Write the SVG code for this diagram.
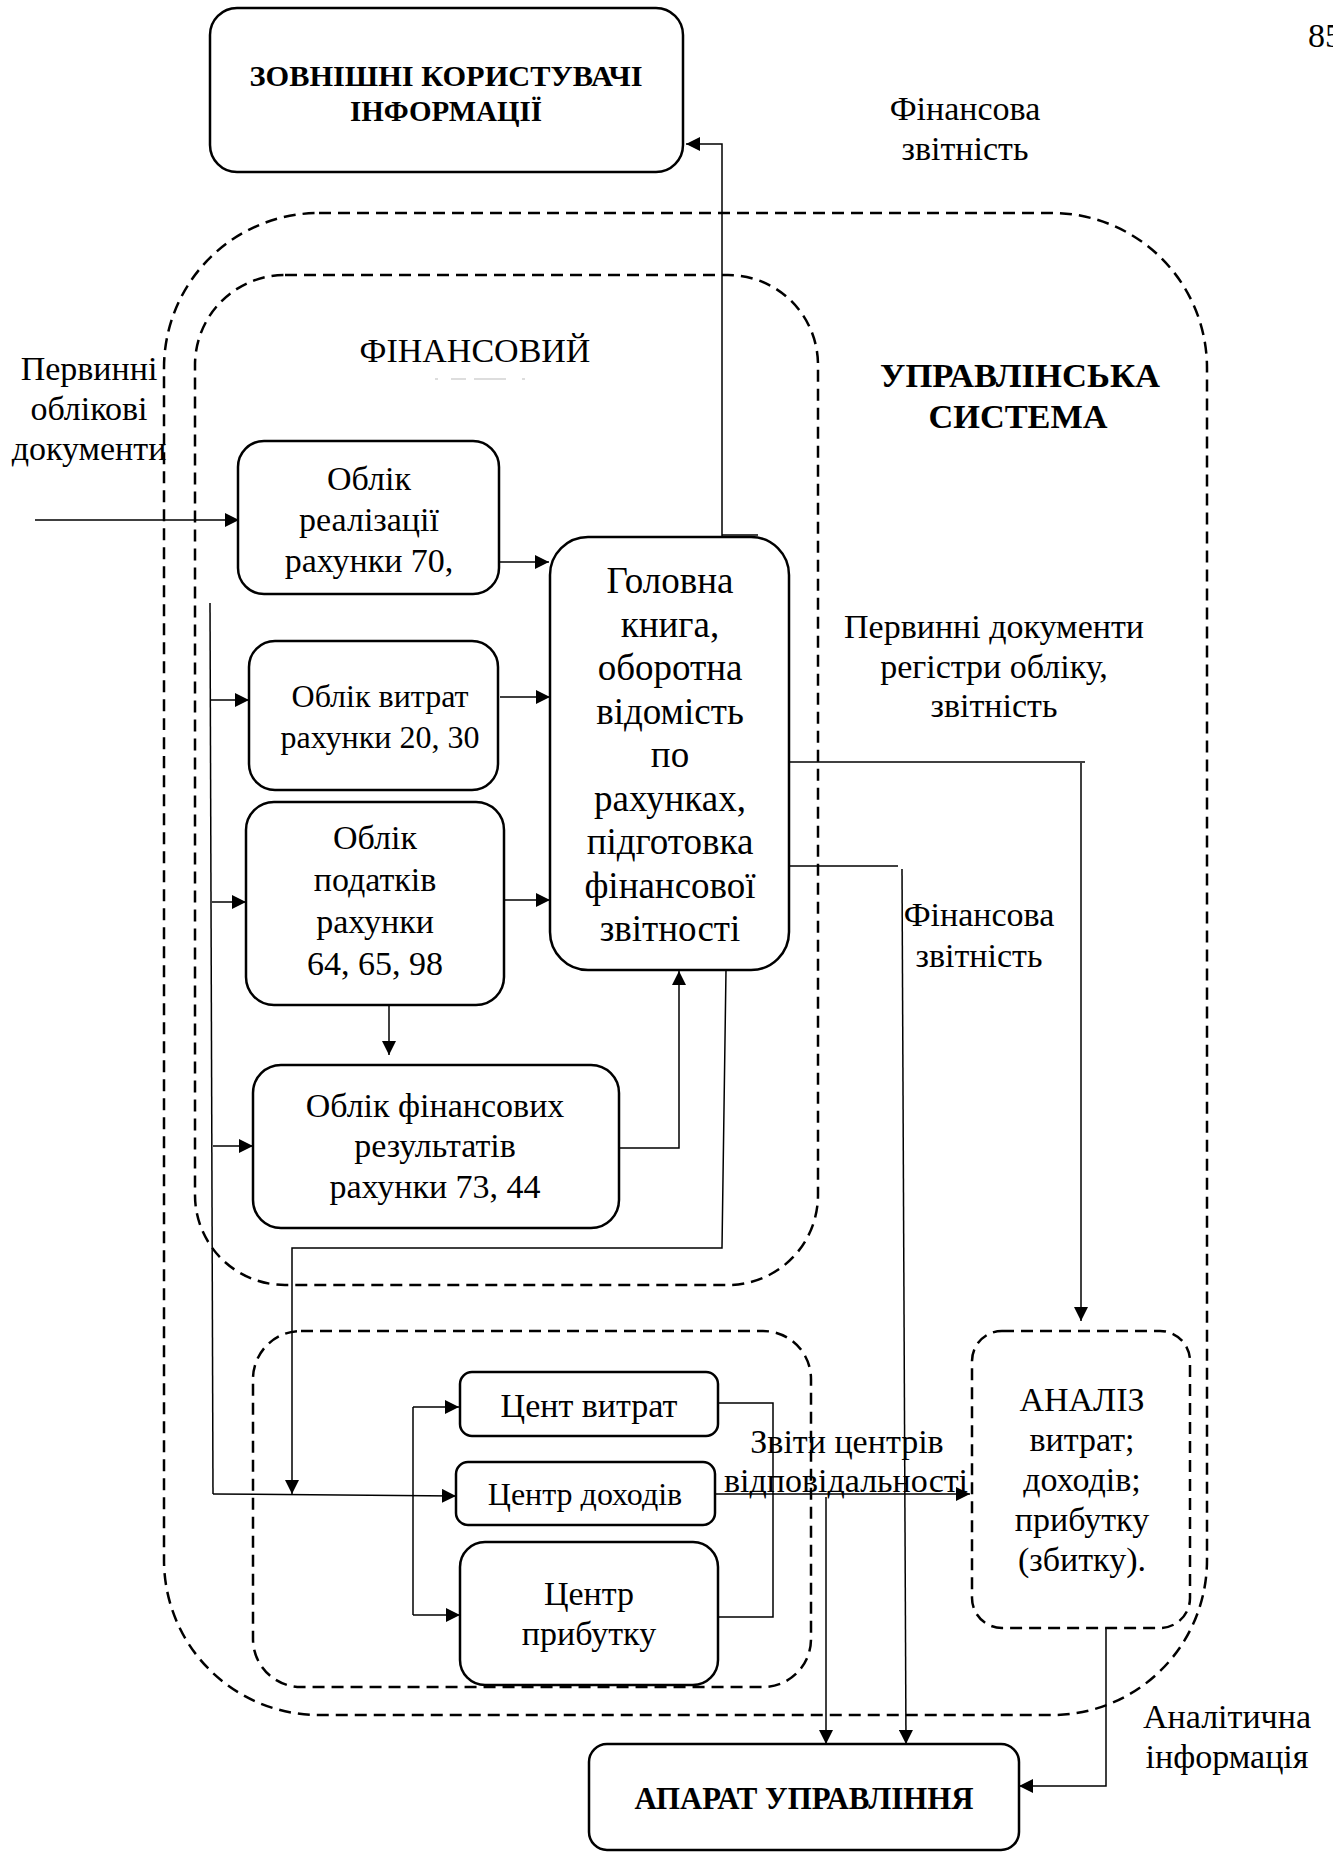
<svg xmlns="http://www.w3.org/2000/svg" width="1333" height="1852" viewBox="0 0 1333 1852">
<style>
text{font-family:"Liberation Serif","Times New Roman",serif;fill:#000}
.t{font-size:34px;text-anchor:middle}
.b{font-weight:bold;text-anchor:middle}
.box{fill:#fff;stroke:#000;stroke-width:2.5}
.dash{fill:none;stroke:#000;stroke-width:2.5;stroke-dasharray:12 7}
.c{fill:none;stroke:#000;stroke-width:1.5}
.a{marker-end:url(#arr)}
</style>
<defs>
<marker id="arr" viewBox="0 0 10 10" refX="10" refY="5" markerWidth="14" markerHeight="14" markerUnits="userSpaceOnUse" orient="auto"><path d="M0,0 L10,5 L0,10 z" fill="#000"/></marker>
</defs>
<rect width="1333" height="1852" fill="#fff"/>
<text x="1308" y="47" style="font-size:34px">85</text>

<g id="management-system">
<rect class="dash" x="164" y="213" width="1043" height="1502" rx="155" ry="155"/>
<text class="b" x="1020" y="387" style="font-size:33px" textLength="280" lengthAdjust="spacingAndGlyphs">УПРАВЛІНСЬКА</text>
<text class="b" x="1018" y="428" style="font-size:33px" textLength="179" lengthAdjust="spacingAndGlyphs">СИСТЕМА</text>
</g>
<g id="financial-accounting">
<rect class="dash" x="195" y="275" width="623" height="1010" rx="90" ry="90"/>
<text class="t" x="475" y="362">ФІНАНСОВИЙ</text>
<path d="M435,379 H438 M451,379 H466 M474,379 H506 M522,379 H525" stroke="#ddd" stroke-width="2" fill="none"/>
</g>
<g id="responsibility-centers-group">
<rect class="dash" x="253" y="1331" width="558" height="356" rx="48" ry="48"/>
</g>

<g id="connectors">
<path class="c a" d="M722,536 V144 H686"/>
<path class="c" d="M722,535 H758"/>
<path class="c a" d="M35,520 H239"/>
<path class="c a" d="M498,562 H549"/>
<path class="c a" d="M500,697 H550"/>
<path class="c a" d="M504,900 H550"/>
<path class="c" d="M210,603 L213,1494"/>
<path class="c a" d="M211,700 H249"/>
<path class="c a" d="M212,902 H246"/>
<path class="c a" d="M213,1146 H253"/>
<path class="c a" d="M389,1000 V1055"/>
<path class="c a" d="M619,1148 H679 V971"/>
<path class="c a" d="M726,970 L722,1248 H292 V1494"/>
<path class="c a" d="M213,1494 L456,1496"/>
<path class="c" d="M413,1407 V1615"/>
<path class="c a" d="M413,1407 H459"/>
<path class="c a" d="M413,1615 H460"/>
<path class="c" d="M718,1403 H773 V1617 H718"/>
<path class="c a" d="M714,1494 H970"/>
<path class="c a" d="M826,1497 V1744"/>
<path class="c" d="M789,762 H1085"/>
<path class="c a" d="M1081,763 V1321"/>
<path class="c" d="M789,866 H898"/>
<path class="c a" d="M902,869 L906,1744"/>
<path class="c a" d="M1106,1628 V1786 H1019"/>
</g>

<g id="external-users">
<rect class="box" x="210" y="8" width="473" height="164" rx="27" ry="27"/>
<text class="b" x="446" y="86" style="font-size:29px" textLength="393" lengthAdjust="spacingAndGlyphs">ЗОВНІШНІ  КОРИСТУВАЧІ</text>
<text class="b" x="446" y="121" style="font-size:29px" textLength="192" lengthAdjust="spacingAndGlyphs">ІНФОРМАЦІЇ</text>
</g>
<g id="sales-accounting">
<rect class="box" x="238" y="441" width="261" height="153" rx="26" ry="26"/>
<text class="t" x="369" y="490">Облік</text>
<text class="t" x="369" y="531">реалізації</text>
<text class="t" x="369" y="572">рахунки 70,</text>
</g>
<g id="cost-accounting">
<rect class="box" x="249" y="641" width="249" height="149" rx="26" ry="26"/>
<text class="t" x="380" y="707" style="font-size:32px">Облік витрат</text>
<text class="t" x="380" y="748" style="font-size:32px">рахунки 20, 30</text>
</g>
<g id="tax-accounting">
<rect class="box" x="246" y="802" width="258" height="203" rx="28" ry="28"/>
<text class="t" x="375" y="849">Облік</text>
<text class="t" x="375" y="891">податків</text>
<text class="t" x="375" y="933">рахунки</text>
<text class="t" x="375" y="975">64, 65, 98</text>
</g>
<g id="financial-results">
<rect class="box" x="253" y="1065" width="366" height="163" rx="28" ry="28"/>
<text class="t" x="435" y="1117">Облік фінансових</text>
<text class="t" x="435" y="1157">результатів</text>
<text class="t" x="435" y="1198">рахунки 73, 44</text>
</g>
<g id="general-ledger">
<rect class="box" x="550" y="537" width="239" height="433" rx="38" ry="38"/>
<text class="t" x="670" y="593" style="font-size:37px">Головна</text>
<text class="t" x="670" y="637" style="font-size:37px">книга,</text>
<text class="t" x="670" y="680" style="font-size:37px">оборотна</text>
<text class="t" x="670" y="724" style="font-size:37px">відомість</text>
<text class="t" x="670" y="767" style="font-size:37px">по</text>
<text class="t" x="670" y="811" style="font-size:37px">рахунках,</text>
<text class="t" x="670" y="854" style="font-size:37px">підготовка</text>
<text class="t" x="670" y="898" style="font-size:37px">фінансової</text>
<text class="t" x="670" y="941" style="font-size:37px">звітності</text>
</g>
<g id="cost-center">
<rect class="box" x="460" y="1372" width="258" height="64" rx="12" ry="12"/>
<text class="t" x="589" y="1417">Цент витрат</text>
</g>
<g id="revenue-center">
<rect class="box" x="456" y="1462" width="259" height="63" rx="12" ry="12"/>
<text class="t" x="585" y="1505" style="font-size:32px">Центр доходів</text>
</g>
<g id="profit-center">
<rect class="box" x="460" y="1542" width="258" height="143" rx="25" ry="25"/>
<text class="t" x="589" y="1605">Центр</text>
<text class="t" x="589" y="1645">прибутку</text>
</g>
<g id="analysis">
<rect class="dash" x="972" y="1331" width="218" height="297" rx="30" ry="30"/>
<text class="t" x="1082" y="1411">АНАЛІЗ</text>
<text class="t" x="1082" y="1451">витрат;</text>
<text class="t" x="1082" y="1491">доходів;</text>
<text class="t" x="1082" y="1531">прибутку</text>
<text class="t" x="1082" y="1571">(збитку).</text>
</g>
<g id="management-apparatus">
<rect class="box" x="589" y="1744" width="430" height="106" rx="18" ry="18"/>
<text class="b" x="804" y="1809" style="font-size:31px" textLength="339" lengthAdjust="spacingAndGlyphs">АПАРАТ  УПРАВЛІННЯ</text>
</g>

<g id="labels">
<text class="t" x="965" y="120">Фінансова</text>
<text class="t" x="965" y="160">звітність</text>
<text class="t" x="89" y="380">Первинні</text>
<text class="t" x="89" y="420">облікові</text>
<text class="t" x="89" y="460">документи</text>
<text class="t" x="994" y="638">Первинні документи</text>
<text class="t" x="994" y="678">регістри обліку,</text>
<text class="t" x="994" y="717">звітність</text>
<text class="t" x="979" y="926">Фінансова</text>
<text class="t" x="979" y="967">звітність</text>
<text class="t" x="847" y="1453">Звіти центрів</text>
<text class="t" x="846" y="1492">відповідальності</text>
<text class="t" x="1227" y="1728">Аналітична</text>
<text class="t" x="1227" y="1768">інформація</text>
</g>
</svg>
